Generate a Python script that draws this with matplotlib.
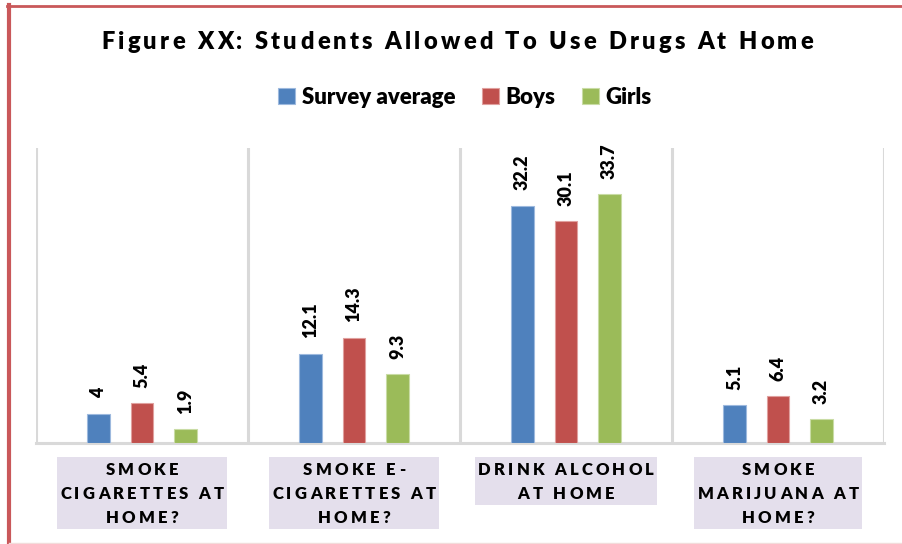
import numpy as np
import matplotlib
matplotlib.use('Agg')
import matplotlib.pyplot as plt
from matplotlib.font_manager import FontProperties, fontManager
from matplotlib.patches import Rectangle
from matplotlib.lines import Line2D

categories = ['SMOKE\nCIGARETTES AT\nHOME?',
              'SMOKE E-\nCIGARETTES AT\nHOME?',
              'DRINK ALCOHOL\nAT HOME',
              'SMOKE\nMARIJUANA AT\nHOME?']
series_names = ['Survey average', 'Boys', 'Girls']
survey_avg = [4, 12.1, 32.2, 5.1]
boys = [5.4, 14.3, 30.1, 6.4]
girls = [1.9, 9.3, 33.7, 3.2]
colors = ['#4F81BD', '#C0504D', '#9BBB59']
edges = ['#9DB9DE', '#E0A09E', '#C9DCA5']

W, H = 902, 544
FONT = 'Lato'
print(sorted({(f.name, f.weight) for f in fontManager.ttflist if f.name == FONT}, key=str))
WT = 'heavy'

fig = plt.figure(figsize=(W / 100, H / 100), dpi=100)
fig.patch.set_facecolor('white')
ax = fig.add_axes([36 / W, 1 - 443 / H, 848 / W, (443 - 148) / H])

x = np.arange(len(categories))
width = 0.108
offsets = [-0.205, 0, 0.205]
bars = []
for vals, off, c, ec, name in zip([survey_avg, boys, girls], offsets, colors, edges, series_names):
    b = ax.bar(x + off, vals, width, color=c, edgecolor=ec, linewidth=0.8, label=name, zorder=3)
    bars.append(b)
    for rect, v in zip(b, vals):
        ax.annotate(f'{v:g}', (rect.get_x() + rect.get_width() / 2, v),
                    xytext=(0, 11), textcoords='offset points',
                    rotation=90, ha='center', va='bottom',
                    fontsize=13, fontweight=WT, family=FONT, color='black')

ax.set_xlim(-0.5, 3.5)
ax.set_ylim(0, 40)
ax.set_xticks([])
ax.set_yticks([])
for xb in np.arange(-0.5, 4, 1):
    ax.axvline(xb, color='#D9D9D9', lw=2.2, zorder=1)
for s in ['top', 'right', 'left']:
    ax.spines[s].set_visible(False)
ax.spines['bottom'].set_color('#D9D9D9')
ax.spines['bottom'].set_linewidth(2.2)

fig.canvas.draw()
renderer = fig.canvas.get_renderer()


def spaced_line(xc, y, s, prop, spacing):
    # draw a line of text with extra tracking, centred on xc (pixels)
    widths = [renderer.get_text_width_height_descent(ch, prop, ismath=False)[0] for ch in s]
    total = sum(widths) + spacing * (len(s) - 1)
    xs = xc - total / 2
    for ch, w in zip(s, widths):
        fig.text(xs / W, 1 - y / H, ch, fontproperties=prop, ha='left', va='center')
        xs += w + spacing
    return total


# title
title_prop = FontProperties(family=FONT, weight=WT, size=17)
spaced_line(457, 42, 'Figure XX: Students Allowed To Use Drugs At Home', title_prop, 3.3)

# legend
fig.legend(handles=bars, labels=series_names, loc='center', bbox_to_anchor=(465 / W, 1 - 97 / H),
           ncol=3, frameon=False, handlelength=0.75, handleheight=0.75, handletextpad=0.3,
           columnspacing=1.2, prop=FontProperties(family=FONT, weight=WT, size=16))

# category labels in shaded boxes
cat_prop = FontProperties(family=FONT, weight=WT, size=12)
track = 3.2
centers_px = [36 + 212 * (i + 0.5) for i in range(len(categories))]
for xc, label in zip(centers_px, categories):
    lines = label.split('\n')
    widths = []
    for ch_line in lines:
        ws = [renderer.get_text_width_height_descent(ch, cat_prop, ismath=False)[0] for ch in ch_line]
        widths.append(sum(ws) + track * (len(ch_line) - 1))
    bw = max(widths) + 6
    bh = 24 * len(lines)
    fig.patches.append(Rectangle(((xc - bw / 2) / W, 1 - (457 + bh) / H), bw / W, bh / H,
                                 transform=fig.transFigure, facecolor='#E4DFEC',
                                 edgecolor='none', zorder=0))
    for i, ch_line in enumerate(lines):
        spaced_line(xc, 470 + 24 * i, ch_line, cat_prop, track)

# frame edges
fig.add_artist(Line2D([9 / W, 9 / W], [0, 1 - 5 / H], color='#C9585A', lw=3, transform=fig.transFigure))
fig.add_artist(Line2D([7 / W, 1], [1 - 6 / H, 1 - 6 / H], color='#C9585A', lw=2, transform=fig.transFigure))
fig.add_artist(Line2D([9 / W, 1], [1 - 543 / H, 1 - 543 / H], color='#F2DCDB', lw=1, transform=fig.transFigure))

fig.savefig('out.png', dpi=100)
